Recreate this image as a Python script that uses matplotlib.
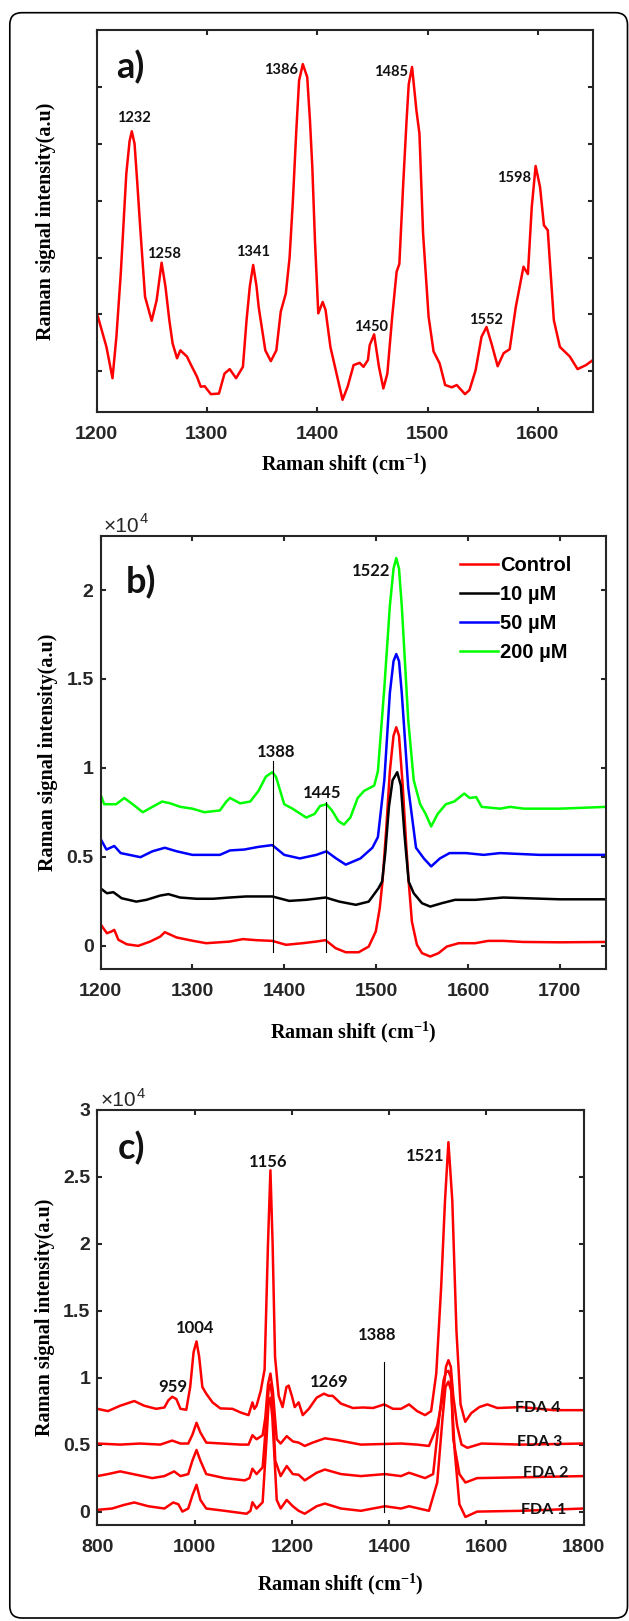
import matplotlib
matplotlib.use("Agg")
import matplotlib.pyplot as plt
from matplotlib.patches import FancyBboxPatch

# ---- panel a: single spectrum (arbitrary units)
wn_a = [1200, 1209, 1214.5, 1218, 1222, 1227, 1230, 1232, 1234.5, 1237, 1240, 1244, 1250,
        1254.5, 1259, 1262.5, 1266, 1269, 1273, 1276, 1282, 1286, 1291, 1294.5, 1298, 1303.6,
        1311, 1316, 1320.7, 1326.5, 1332.7, 1336, 1339, 1342, 1345, 1347, 1353, 1358, 1363,
        1367, 1371.6, 1375, 1378, 1381, 1383.6, 1387, 1391, 1393.5, 1395.6, 1398, 1401, 1405,
        1407.6, 1412, 1418.5, 1423, 1427.6, 1433, 1438.5, 1442, 1446, 1447.6, 1451.6, 1456,
        1460, 1463.6, 1468, 1472, 1474.5, 1478, 1481, 1483, 1486, 1490, 1492.7, 1496, 1501,
        1505.5, 1511, 1516, 1522, 1526.5, 1534, 1538, 1543.6, 1549, 1553.5, 1558, 1563.6, 1569,
        1574.5, 1580, 1587, 1591, 1594.5, 1598, 1602, 1605.5, 1609, 1614.5, 1620, 1629, 1636,
        1643.6, 1650]
int_a = [2.05, 1.43, 0.88, 1.6, 2.72, 4.47, 5.05, 5.22, 5.0, 4.3, 3.42, 2.31, 1.89,
         2.25, 2.91, 2.49, 1.9, 1.49, 1.23, 1.37, 1.26, 1.1, 0.91, 0.73, 0.74, 0.60,
         0.61, 0.96, 1.04, 0.88, 1.08, 1.90, 2.5, 2.87, 2.5, 2.13, 1.37, 1.18, 1.37,
         2.05, 2.37, 3.0, 4.0, 5.2, 6.11, 6.40, 6.17, 5.4, 4.59, 3.3, 2.02, 2.22,
         2.08, 1.43, 0.88, 0.50, 0.73, 1.11, 1.15, 1.08, 1.20, 1.46, 1.65, 1.08,
         0.70, 0.96, 1.96, 2.75, 2.89, 4.30, 5.4, 6.05, 6.35, 5.58, 5.18, 3.42, 1.96,
         1.35, 1.14, 0.76, 0.72, 0.76, 0.60, 0.67, 1.02, 1.61, 1.78, 1.49, 1.09, 1.32,
         1.39, 2.13, 2.84, 2.71, 3.89, 4.61, 4.24, 3.57, 3.48, 1.90, 1.43, 1.26, 1.04,
         1.11, 1.20]
peaks_a = ["1232", "1258", "1341", "1386", "1485", "1450", "1552", "1598"]
peak_pos_a = [(1233.5, 5.46), (1261, 3.07), (1342, 3.1), (1367, 6.29), (1467, 6.26),
              (1449, 1.78), (1553, 1.91), (1578, 4.40)]

# ---- panel b: concentration series (x 10^4)
wn_ctrl = [1200, 1207, 1212, 1215, 1219.5, 1228.6, 1241, 1254, 1265, 1270, 1283, 1301, 1315,
           1340.5, 1355, 1369.5, 1387, 1402, 1420, 1434.5, 1445, 1456, 1467, 1481, 1492,
           1499.7, 1504, 1507, 1511, 1515, 1519, 1522, 1525, 1529, 1533, 1535.5, 1539, 1544.5,
           1550, 1559, 1568, 1577, 1590, 1608, 1622, 1638.5, 1660, 1700, 1750]
int_ctrl = [0.12, 0.069, 0.079, 0.088, 0.032, 0.007, -0.002, 0.022, 0.05, 0.075, 0.045, 0.026, 0.013,
            0.022, 0.036, 0.03, 0.026, 0.004, 0.013, 0.022, 0.03, -0.015, -0.038, -0.038, -0.006,
            0.079, 0.21, 0.36, 0.65, 0.98, 1.18, 1.228, 1.18, 0.9, 0.55, 0.36, 0.135, 0.004,
            -0.043, -0.062, -0.043, -0.006, 0.013, 0.013, 0.026, 0.026, 0.02, 0.018, 0.02]

wn_10 = [1200, 1207, 1214, 1223, 1239, 1250, 1265, 1274, 1286.6, 1304.6, 1322.6, 1340.5, 1358.6,
         1387, 1405.5, 1423.6, 1445, 1460, 1478, 1492, 1502.6, 1506.6, 1510, 1514, 1518, 1523,
         1527, 1531, 1535.5, 1541, 1550, 1559, 1571.5, 1586, 1608, 1638.5, 1700, 1750]
int_10 = [0.322, 0.294, 0.30, 0.266, 0.247, 0.257, 0.281, 0.289, 0.27, 0.263, 0.263, 0.27, 0.276,
          0.276, 0.251, 0.257, 0.27, 0.247, 0.229, 0.247, 0.322, 0.36, 0.52, 0.78, 0.93, 0.975,
          0.9, 0.62, 0.36, 0.294, 0.238, 0.219, 0.238, 0.257, 0.257, 0.27, 0.26, 0.26]

wn_50 = [1200, 1206.5, 1215, 1222, 1243.5, 1256.5, 1270, 1283, 1300, 1330, 1341, 1356.5, 1372,
         1387, 1400, 1417, 1435, 1446, 1456.5, 1467, 1483, 1496, 1502, 1509, 1515, 1519, 1522,
         1525, 1528, 1535, 1543.5, 1552, 1560, 1569.5, 1580, 1598, 1617, 1635, 1678, 1750]
int_50 = [0.60, 0.54, 0.56, 0.52, 0.497, 0.53, 0.55, 0.53, 0.51, 0.51, 0.535, 0.54, 0.555,
          0.565, 0.51, 0.49, 0.51, 0.53, 0.49, 0.455, 0.49, 0.55, 0.61, 0.93, 1.42, 1.6, 1.64,
          1.6, 1.42, 0.89, 0.55, 0.49, 0.445, 0.49, 0.52, 0.52, 0.51, 0.52, 0.51, 0.51]

wn_200 = [1200, 1204, 1217, 1226, 1235, 1246, 1256.5, 1267, 1276, 1287, 1300, 1313, 1330, 1337,
          1341, 1352, 1363, 1372, 1380, 1387, 1391, 1400, 1409, 1424, 1433, 1439, 1446, 1452,
          1459, 1465, 1472, 1480, 1487, 1498, 1502, 1509, 1515, 1519, 1522, 1525, 1528, 1535,
          1541, 1548, 1554, 1560, 1567, 1576, 1585, 1596, 1602, 1609, 1615, 1635, 1646, 1661,
          1700, 1750]
int_200 = [0.85, 0.795, 0.795, 0.83, 0.795, 0.75, 0.78, 0.81, 0.80, 0.78, 0.77, 0.75, 0.76, 0.81,
           0.83, 0.80, 0.81, 0.87, 0.95, 0.975, 0.95, 0.795, 0.77, 0.72, 0.74, 0.785, 0.795, 0.76,
           0.70, 0.68, 0.72, 0.83, 0.87, 0.90, 0.98, 1.45, 1.91, 2.12, 2.18, 2.12, 1.91, 1.27,
           0.93, 0.795, 0.74, 0.67, 0.74, 0.795, 0.81, 0.855, 0.83, 0.835, 0.78, 0.77, 0.78, 0.77,
           0.77, 0.78]
labels_b = ["Control", "10 µM", "50 µM", "200 µM"]

# ---- panel c: FDA spectra (x 10^4)
wn_fda4 = [800, 822, 847, 876, 896.5, 921, 938, 946, 954, 962.5, 971, 983, 991, 998, 1004, 1009.5,
           1016, 1024, 1037, 1053, 1078, 1094.5, 1111, 1115, 1119, 1123, 1127.5, 1136, 1144, 1151,
           1156, 1160.5, 1165.5, 1173, 1181, 1189, 1193.6, 1200, 1206, 1214, 1222.5, 1235, 1251,
           1266, 1276, 1284, 1301, 1325.6, 1346, 1367, 1390, 1408, 1424.6, 1441, 1457.6, 1474,
           1486.5, 1497, 1507, 1515, 1522, 1530, 1538.5, 1547, 1556.6, 1569, 1585.5, 1602, 1622.6,
           1672, 1738, 1800]
int_fda4 = [0.767, 0.75, 0.79, 0.825, 0.79, 0.767, 0.777, 0.83, 0.857, 0.84, 0.767, 0.76, 0.93, 1.19,
            1.27, 1.155, 0.93, 0.88, 0.815, 0.77, 0.767, 0.74, 0.72, 0.767, 0.815, 0.767, 0.79, 0.90,
            1.06, 2.0, 2.547, 2.0, 1.155, 0.864, 0.78, 0.93, 0.94, 0.864, 0.78, 0.815, 0.72, 0.767,
            0.85, 0.88, 0.864, 0.864, 0.806, 0.773, 0.777, 0.773, 0.8, 0.767, 0.767, 0.80, 0.75,
            0.72, 0.75, 1.03, 1.67, 2.32, 2.757, 2.32, 1.35, 0.80, 0.67, 0.735, 0.78, 0.80, 0.773,
            0.78, 0.757, 0.757]

wn_fda3 = [800, 847, 888, 929.5, 954, 971, 987, 995.5, 1004, 1012, 1024, 1094.5, 1111, 1119,
           1127.5, 1140, 1145.5, 1151, 1156, 1161, 1169, 1177, 1189.5, 1202, 1214, 1226.6, 1243,
           1268, 1292.6, 1342, 1424.6, 1457.6, 1482, 1499, 1511, 1517, 1522, 1527, 1532, 1540,
           1549, 1561, 1590, 1672, 1800]
int_fda3 = [0.508, 0.50, 0.508, 0.50, 0.53, 0.508, 0.508, 0.573, 0.663, 0.59, 0.515, 0.50, 0.50, 0.57,
            0.54, 0.57, 0.70, 0.95, 1.03, 0.9, 0.54, 0.508, 0.563, 0.524, 0.515, 0.49, 0.515,
            0.547, 0.534, 0.50, 0.508, 0.50, 0.49, 0.64, 0.864, 1.08, 1.13, 1.08, 0.864, 0.64,
            0.50, 0.476, 0.508, 0.50, 0.508]

wn_fda2 = [800, 822, 847, 880, 913, 938, 958, 971, 987, 995.5, 1004, 1012, 1024, 1061.5, 1103,
           1113, 1119, 1127.5, 1140, 1148, 1152, 1156, 1160, 1166, 1177, 1189.5, 1202, 1214,
           1226.6, 1251, 1268, 1301, 1342, 1391.6, 1424.6, 1441, 1474, 1490.6, 1503, 1512, 1517,
           1522, 1527, 1532, 1544.6, 1557, 1581, 1672, 1800]
int_fda2 = [0.265, 0.28, 0.30, 0.275, 0.25, 0.265, 0.30, 0.265, 0.28, 0.38, 0.46, 0.38, 0.28, 0.25,
            0.233, 0.25, 0.32, 0.28, 0.33, 0.70, 0.9, 0.95, 0.85, 0.38, 0.265, 0.34, 0.28, 0.275,
            0.233, 0.29, 0.314, 0.28, 0.265, 0.28, 0.265, 0.29, 0.25, 0.28, 0.70, 0.98, 1.04,
            1.05, 1.0, 0.54, 0.28, 0.217, 0.25, 0.256, 0.265]

wn_fda1 = [800, 830.5, 855, 876, 905, 938, 956, 966.6, 975, 987, 995.5, 1004, 1012, 1024, 1061.5,
           1107, 1115, 1119, 1127.5, 1140, 1148, 1152, 1156, 1160, 1169, 1177, 1189.5, 1202, 1214,
           1226.6, 1251, 1268, 1301, 1342, 1391.6, 1424.6, 1441, 1482, 1499, 1510, 1516, 1522,
           1528, 1535, 1544.6, 1557, 1581, 1672, 1800]
int_fda1 = [0.013, 0.023, 0.05, 0.068, 0.04, 0.023, 0.068, 0.055, 0.0, 0.023, 0.12, 0.20, 0.087, 0.023,
            0.006, -0.016, 0.006, 0.07, 0.023, 0.07, 0.54, 0.8, 0.85, 0.7, 0.087, 0.023, 0.087,
            0.04, 0.006, -0.016, 0.04, 0.06, 0.023, 0.006, 0.04, 0.023, 0.04, 0.006, 0.217, 0.7,
            0.93, 0.97, 0.9, 0.45, 0.055, -0.04, 0.0, 0.006, 0.023]
labels_c = ["FDA 1", "FDA 2", "FDA 3", "FDA 4"]
label_pos_c = [(1717, 0.013), (1722, 0.29), (1709, 0.52), (1705, 0.77)]

W, H = 629, 1621
plt.rcParams['font.family'] = ['Liberation Sans', 'DejaVu Sans']
plt.rcParams['font.weight'] = 'bold'
plt.rcParams['mathtext.fontset'] = 'custom'
plt.rcParams['mathtext.rm'] = 'Liberation Serif:bold'
plt.rcParams['mathtext.bf'] = 'Liberation Serif:bold'
plt.rcParams['mathtext.default'] = 'rm'

fig = plt.figure(figsize=(W / 100, H / 100), dpi=100)
GRAY = '#262626'
SERIF = 'Liberation Serif'
LW = 1.8


def make_axes(left, top, right, bottom):
    return fig.add_axes([left / W, 1 - bottom / H, (right - left) / W, (bottom - top) / H])


def style(ax, ylab_x, xlab_y):
    for s in ax.spines.values():
        s.set_linewidth(1.5)
        s.set_color(GRAY)
    ax.tick_params(direction='in', top=True, right=True, length=3.5, width=1.5,
                   color=GRAY, labelsize=14, labelcolor=GRAY)
    ax.tick_params(axis='x', pad=10)
    ax.tick_params(axis='y', pad=5)
    ax.set_xlabel("Raman shift (cm$^{-1}$)", family=SERIF, fontsize=14.5, fontweight='bold')
    ax.set_ylabel("Raman signal intensity(a.u)", family=SERIF, fontsize=14.5, fontweight='bold')
    ax.yaxis.set_label_coords(ylab_x, 0.5)
    ax.xaxis.set_label_coords(0.5, xlab_y)


def times_ten(ax):
    # MATLAB style exponent label above the axes
    bb = ax.get_position()
    x0 = bb.x0 + 3.5 / W
    y0 = bb.y1 + 4 / H
    fig.text(x0, y0, "×10", fontsize=15, fontweight='normal', color=GRAY, va='baseline')
    fig.text(x0 + 36 / W, y0 + 8 / H, "4", fontsize=10.5, fontweight='normal', color=GRAY,
             va='baseline')


# panel a
ax_a = make_axes(96.5, 30, 593, 412)
ax_a.plot(wn_a, int_a, color='#ff0000', lw=LW)
ax_a.set_xlim(1200, 1650)
ax_a.set_ylim(0.286, 7.0)
ax_a.set_xticks([1200, 1300, 1400, 1500, 1600])
ax_a.set_yticks([1, 2, 3, 4, 5, 6])
ax_a.set_yticklabels([])
for lab, (x, y) in zip(peaks_a, peak_pos_a):
    ax_a.text(x, y, lab, family='Lato', fontweight='bold', fontsize=10.5, ha='center',
              va='center', color='#111111')
style(ax_a, -0.0816, -0.105)
fig.text(116 / W, 1 - 67 / H, "a)", family='Lato', fontweight='bold', fontsize=26,
         va='center', ha='left', color='#111111')

# panel b
ax_b = make_axes(100.5, 535.5, 605.7, 969.5)
ax_b.plot(wn_ctrl, int_ctrl, color='#ff0000', lw=LW, label=labels_b[0])
ax_b.plot(wn_10, int_10, color='#000000', lw=LW, label=labels_b[1])
ax_b.plot(wn_50, int_50, color='#0000ff', lw=LW, label=labels_b[2])
ax_b.plot(wn_200, int_200, color='#00ff00', lw=LW, label=labels_b[3])
ax_b.plot([1388, 1388], [-0.037, 1.04], color='k', lw=0.8)
ax_b.plot([1445, 1445], [-0.037, 0.81], color='k', lw=0.8)
ax_b.text(1391, 1.09, "1388", family='Lato', fontweight='bold', fontsize=12, ha='center',
          va='center', color='#111111')
ax_b.text(1441, 0.86, "1445", family='Lato', fontweight='bold', fontsize=12, ha='center',
          va='center', color='#111111')
ax_b.text(1516, 2.11, "1522", family='Lato', fontweight='bold', fontsize=12, ha='right',
          va='center', color='#111111')
ax_b.set_xlim(1200, 1750)
ax_b.set_ylim(-0.135, 2.307)
ax_b.set_xticks([1200, 1300, 1400, 1500, 1600, 1700])
ax_b.set_yticks([0, 0.5, 1, 1.5, 2])
ax_b.set_yticklabels(["0", "0.5", "1", "1.5", "2"])
style(ax_b, -0.0841, -0.1164)
ax_b.legend(loc='upper left', bbox_to_anchor=(460 / W, 1 - 556 / H),
            bbox_transform=fig.transFigure, frameon=False, borderpad=0, borderaxespad=0,
            handlelength=1.9, handletextpad=0.1, labelspacing=0.5,
            prop={'family': 'Liberation Sans', 'weight': 'bold', 'size': 14.5})
times_ten(ax_b)
fig.text(126 / W, 1 - 582 / H, "b)", family='Lato', fontweight='bold', fontsize=26,
         va='center', ha='left', color='#111111')

# panel c
ax_c = make_axes(97.3, 1109.6, 583.6, 1525)
for wn, it in [(wn_fda1, int_fda1), (wn_fda2, int_fda2), (wn_fda3, int_fda3), (wn_fda4, int_fda4)]:
    ax_c.plot(wn, it, color='#ff0000', lw=LW)
ax_c.plot([1390, 1390], [0.0, 1.12], color='k', lw=0.8)
for lab, (x, y) in zip(labels_c, label_pos_c):
    ax_c.text(x, y, lab, family='Lato', fontweight='bold', fontsize=11.5, ha='center',
              va='center', color='#111111', zorder=5)
for lab, (x, y) in [("959", (956, 0.93)), ("1004", (1001, 1.37)), ("1156", (1152, 2.61)),
                    ("1269", (1276, 0.97)), ("1388", (1375, 1.32)), ("1521", (1474, 2.65))]:
    ax_c.text(x, y, lab, family='Lato', fontweight='bold', fontsize=12, ha='center',
              va='center', color='#111111')
ax_c.set_xlim(800, 1800)
ax_c.set_ylim(-0.1, 3.0)
ax_c.set_xticks([800, 1000, 1200, 1400, 1600, 1800])
ax_c.set_yticks([0, 0.5, 1, 1.5, 2, 2.5, 3])
ax_c.set_yticklabels(["0", "0.5", "1", "1.5", "2", "2.5", "3"])
style(ax_c, -0.087, -0.1122)
times_ten(ax_c)
fig.text(118 / W, 1 - 1148 / H, "c)", family='Lato', fontweight='bold', fontsize=26,
         va='center', ha='left', color='#111111')

# rounded frame around the whole figure
frame = FancyBboxPatch((0.098, 0.03), 6.177, 16.053, boxstyle="round,pad=0,rounding_size=0.12",
                       transform=fig.dpi_scale_trans, fill=False, edgecolor='black', lw=1.2)
fig.patches.append(frame)

fig.savefig("out.png", dpi=100)
